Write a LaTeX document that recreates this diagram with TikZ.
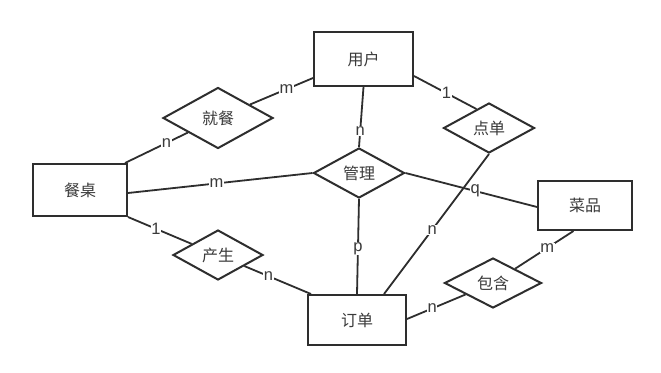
\documentclass[tikz,border=0pt]{standalone}
\usepackage{fontspec}
\setmainfont{Liberation Sans}
\newfontfamily\cjk{Noto Sans CJK SC}
\usetikzlibrary{shapes.geometric,calc}
\definecolor{edgecol}{HTML}{2E2E2E}
\definecolor{txtcol}{HTML}{3A3A3A}
\begin{document}
\begin{tikzpicture}[x=1pt,y=-1pt,
  entity/.style={draw=edgecol,line width=2pt,rectangle,inner sep=0pt,text=txtcol,font=\cjk\fontsize{16}{16}\selectfont},
  relation/.style={draw=edgecol,line width=2pt,diamond,inner sep=0pt,text=txtcol,font=\cjk\fontsize{16}{16}\selectfont},
  link/.style={draw=edgecol,line width=1.8pt},
  card/.style={fill=white,inner sep=0.6pt,text=txtcol,font=\fontsize{16.5}{16.5}\selectfont}]
\useasboundingbox (0,0) rectangle (661,372);
\fill[white] (0,0) rectangle (661,372);
% entities
\node[entity,minimum width=99pt,minimum height=54pt] (yonghu) at (363.5,59) {用户};
\node[entity,minimum width=94pt,minimum height=52pt] (canzhuo) at (80,190) {餐桌};
\node[entity,minimum width=94pt,minimum height=49pt] (caipin) at (585,205.5) {菜品};
\node[entity,minimum width=98pt,minimum height=50pt] (dingdan) at (357,320) {订单};
% relations
\node[relation,minimum width=110pt,minimum height=61pt] (jiucan) at (218,118) {就餐};
\node[relation,minimum width=91pt,minimum height=50pt] (diandan) at (489,128) {点单};
\node[relation,minimum width=91pt,minimum height=50pt] (guanli) at (359,173) {管理};
\node[relation,minimum width=90pt,minimum height=50pt] (chansheng) at (218,255) {产生};
\node[relation,minimum width=97pt,minimum height=50pt] (baohan) at (493,283) {包含};
% connectors
\draw[link] (yonghu.west |- 0,78) -- (jiucan) node[card,pos=0.42] {m};
\draw[link] (jiucan) -- ([xshift=-3pt]canzhuo.north east) node[card,pos=0.34] {n};
\draw[link] (yonghu.south) -- (guanli.north) node[card,pos=0.74] {n};
\draw[link] (yonghu.east |- 0,76) -- ($(diandan.north)!0.27!(diandan.west)$) node[card,pos=0.52] {1};
\draw[link] (canzhuo.east |- 0,193) -- (guanli.west) node[card,pos=0.48] {m};
\draw[link] (guanli.south) -- (dingdan.north) node[card,pos=0.52] {p};
\draw[link] (diandan.south) -- ($(dingdan.north west)!0.77!(dingdan.north east)$) node[card,pos=0.54] {n};
\draw[link] (guanli.east) -- (caipin.west |- 0,207) node[card,pos=0.53] {q};
\draw[link] (canzhuo.south east) -- (chansheng) node[card,pos=0.44] {1};
\draw[link] (chansheng) -- ([xshift=4pt]dingdan.north west) node[card,pos=0.36] {n};
\draw[link] (dingdan.east |- 0,319) -- (baohan) node[card,pos=0.43] {n};
\draw[link] (baohan) -- ($(caipin.south west)!0.38!(caipin.south east)$) node[card,pos=0.55] {m};
\end{tikzpicture}
\end{document}
